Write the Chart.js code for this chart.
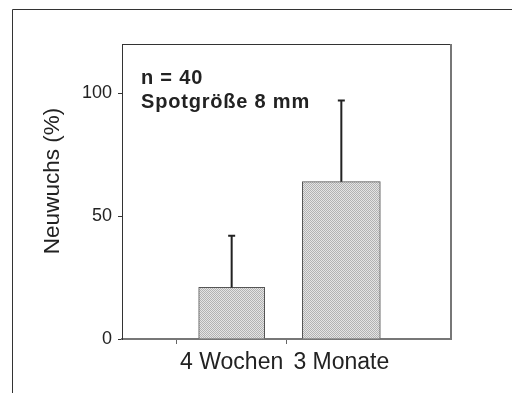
<!DOCTYPE html>
<html>
<head>
<meta charset="utf-8">
<script src="https://cdn.jsdelivr.net/npm/chart.js@4.4.1/dist/chart.umd.min.js"></script>
<style>
  body { margin: 0; background: #fff; }
  canvas { display: block; }
</style>
</head>
<body>
<canvas id="barChart" width="512" height="393"></canvas>
<script>
  // data
  const categories = ['', '4 Wochen', '3 Monate', ''];
  const meanValues = [null, 21, 64, null];
  const errorUp = [null, 21, 33, null];   // upper error bar length
  const yTicks = [0, 50, 100];
  const noteLines = ['n = 40', 'Spotgröße 8 mm'];
  const yTitle = 'Neuwuchs (%)';

  const barWidths = [66, 78];
  const FONT = '"Liberation Sans", Arial, sans-serif';

  // stippled grey like the print
  function makePattern(){
    var c = document.createElement('canvas');
    c.width = 2; c.height = 2;
    var p = c.getContext('2d');
    p.fillStyle = '#e4e4e4';
    p.fillRect(0, 0, 2, 2);
    p.fillStyle = '#b2b2b2';
    p.fillRect(0, 0, 1, 1);
    p.fillRect(1, 1, 1, 1);
    return document.getElementById('barChart').getContext('2d').createPattern(c, 'repeat');
  }
  var fill = makePattern();

  // one dataset per bar so each can have its own width
  var datasets = [];
  meanValues.forEach((v, i) => {
    if(v === null) return;
    var d = meanValues.map((_, j) => j === i ? v : null);
    datasets.push({
      data: d,
      backgroundColor: fill,
      borderColor: '#555',
      borderWidth: 1,
      barThickness: barWidths[datasets.length],
      grouped: false
    });
  });

  const decorPlugin = {
    id: 'decor',
    beforeDraw(chart){
      var ctx = chart.ctx;
      var a = chart.chartArea;
      ctx.save();
      // outer frame
      ctx.strokeStyle = '#333';
      ctx.lineWidth = 1;
      ctx.beginPath();
      ctx.moveTo(512, 9.5);
      ctx.lineTo(12.5, 9.5);
      ctx.lineTo(12.5, 393);
      ctx.stroke();
      // plot box top + right
      ctx.beginPath();
      ctx.moveTo(a.left, a.top + 0.5);
      ctx.lineTo(a.right, a.top + 0.5);
      ctx.stroke();
      ctx.strokeStyle = '#777';
      ctx.lineWidth = 2;
      ctx.beginPath();
      ctx.moveTo(a.right, a.top);
      ctx.lineTo(a.right, a.bottom);
      ctx.stroke();
      ctx.restore();
    },
    afterDatasetsDraw(chart){
      var ctx = chart.ctx;
      var y = chart.scales.y;
      var a = chart.chartArea;
      ctx.save();
      // error bars, upward only
      chart.data.datasets.forEach((ds, di) => {
        var meta = chart.getDatasetMeta(di);
        ds.data.forEach((v, i) => {
          if(v === null) return;
          var el = meta.data[i];
          var top = y.getPixelForValue(v + errorUp[i]);
          ctx.strokeStyle = '#222';
          ctx.lineWidth = 2;
          ctx.beginPath();
          ctx.moveTo(el.x, el.y);
          ctx.lineTo(el.x, top);
          ctx.moveTo(el.x - 3.5, top);
          ctx.lineTo(el.x + 3.5, top);
          ctx.stroke();
        });
      });
      // note text
      ctx.fillStyle = '#222';
      ctx.font = 'bold 20px ' + FONT;
      ctx.letterSpacing = '0.8px';
      ctx.textAlign = 'left';
      ctx.textBaseline = 'alphabetic';
      ctx.fillText(noteLines[0], a.left + 19, 84);
      ctx.fillText(noteLines[1], a.left + 19, 108);
      // y title
      ctx.letterSpacing = '0px';
      ctx.font = '22.5px ' + FONT;
      ctx.translate(53, 181);
      ctx.rotate(-Math.PI / 2);
      ctx.textAlign = 'center';
      ctx.textBaseline = 'middle';
      ctx.fillText(yTitle, 0, 0);
      ctx.restore();
    }
  };

  var chart = new Chart(document.getElementById('barChart'), {
    type: 'bar',
    data: {
      labels: categories,
      datasets: datasets
    },
    options: {
      responsive: false,
      animation: false,
      layout: { padding: { left: 0, right: 61, top: 44, bottom: 0 } },
      plugins: {
        legend: { display: false },
        tooltip: { enabled: false }
      },
      scales: {
        x: {
          type: 'category',
          offset: false,
          afterFit: (s) => { s.height = 54; },
          grid: {
            drawOnChartArea: false,
            tickLength: 5,
            tickColor: (c) => (c.index === 1 || c.index === 2) ? '#666' : 'rgba(0,0,0,0)'
          },
          border: { color: '#777', width: 2 },
          ticks: {
            color: '#222',
            padding: 5,
            maxRotation: 0,
            autoSkip: false,
            font: { family: FONT, size: 23 }
          }
        },
        y: {
          min: 0,
          max: 120,
          afterFit: (s) => { s.width = 122; },
          afterBuildTicks: (s) => { s.ticks = yTicks.map(v => ({ value: v })); },
          grid: {
            drawOnChartArea: false,
            tickLength: 4,
            tickColor: '#333'
          },
          border: { color: '#333', width: 1 },
          ticks: {
            color: '#222',
            padding: 6,
            font: { family: FONT, size: 18 }
          }
        }
      }
    },
    plugins: [decorPlugin]
  });
</script>
</body>
</html>
